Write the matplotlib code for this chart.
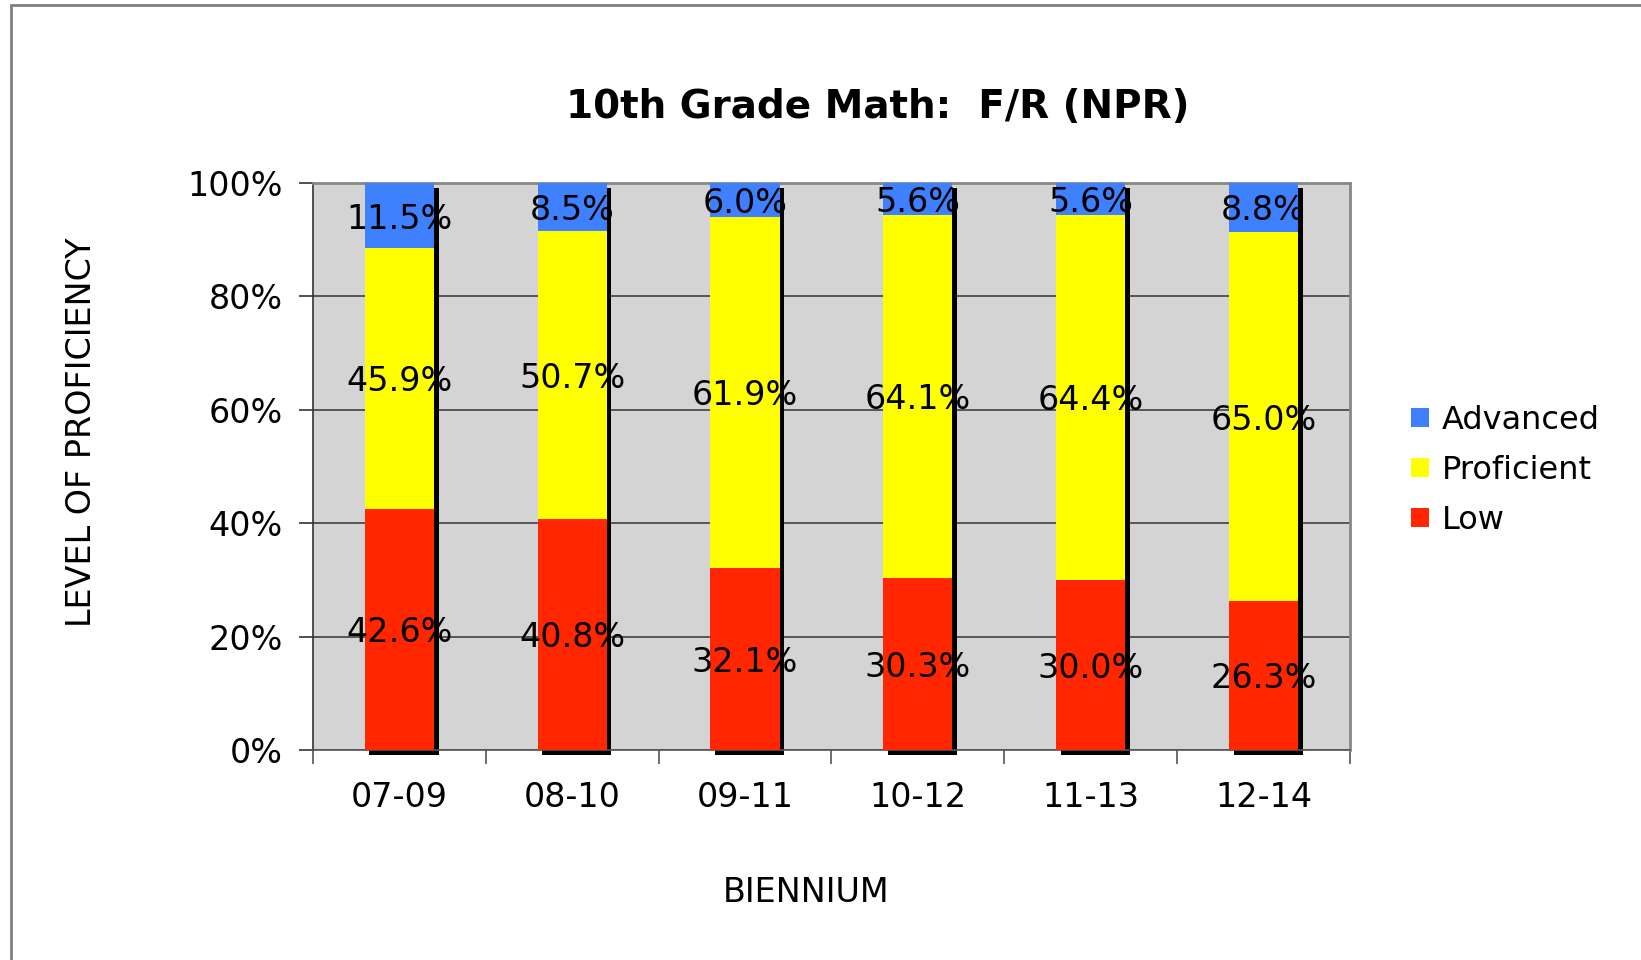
import numpy as np
import matplotlib.pyplot as plt
from matplotlib.patches import Rectangle

# Data
periods = ['07-09', '08-10', '09-11', '10-12', '11-13', '12-14']
low = [42.6, 40.8, 32.1, 30.3, 30.0, 26.3]
proficient = [45.9, 50.7, 61.9, 64.1, 64.4, 65.0]
advanced = [11.5, 8.5, 6.0, 5.6, 5.6, 8.8]

colors = {'Low': '#FF2600', 'Proficient': '#FFFF00', 'Advanced': '#3F80FF'}

fig = plt.figure(figsize=(16.41, 9.6), dpi=100)
ax = fig.add_axes([0.1907, 0.2187, 0.632, 0.5906])

x = np.arange(len(periods))
width = 0.4

# shadow behind each stacked bar
dx, dy = 0.027, 0.8
totals = np.array(low) + np.array(proficient) + np.array(advanced)
for xi, tot in zip(x, totals):
    ax.add_patch(Rectangle((xi - width / 2 + dx, -dy), width, min(tot, 100),
                           facecolor='black', edgecolor='none', zorder=2,
                           clip_on=False))

bottom = np.zeros(len(periods))
handles = {}
for name, vals in [('Low', low), ('Proficient', proficient), ('Advanced', advanced)]:
    vals = np.array(vals)
    b = ax.bar(x, vals, width, bottom=bottom, color=colors[name],
               edgecolor='none', zorder=3, label=name)
    handles[name] = b
    for xi, v, bt in zip(x, vals, bottom):
        ax.text(xi, bt + v / 2 - 0.6, f'{v:.1f}%', ha='center', va='center',
                fontsize=24, zorder=5)
    bottom += vals

ax.set_xlim(-0.5, len(periods) - 0.5)
ax.set_ylim(0, 100)
ax.set_facecolor('#D4D4D4')
ax.set_yticks(np.arange(0, 101, 20))
ax.set_yticklabels([f'{v}%' for v in range(0, 101, 20)], fontsize=24)
ax.yaxis.grid(True, color='#404040', linewidth=1.2, zorder=1)
ax.set_axisbelow(True)

ax.set_xticks(x)
ax.set_xticklabels(periods, fontsize=24)
ax.tick_params(axis='x', length=0, pad=22)
ax.set_xticks(np.arange(-0.5, len(periods), 1), minor=True)
ax.tick_params(axis='x', which='minor', length=10, width=1.2, color='#555555')
ax.tick_params(axis='y', length=10, width=1.2, color='#333333', pad=12)

for side in ['top', 'right']:
    ax.spines[side].set_color('#888888')
    ax.spines[side].set_linewidth(2)
ax.spines['left'].set_color('#333333')
ax.spines['bottom'].set_color('#555555')
ax.spines['left'].set_linewidth(1.2)
ax.spines['bottom'].set_linewidth(1.2)

ax.set_xlabel('BIENNIUM', fontsize=24, va='center')
ax.xaxis.set_label_coords(0.475, -0.251)
ax.set_ylabel('LEVEL OF PROFICIENCY', fontsize=24, va='center')
ax.yaxis.set_label_coords(-0.223, 0.561)

fig.text(0.535, 0.889, '10th Grade Math:  F/R (NPR)', ha='center', va='center',
         fontsize=28, fontweight='bold')

leg = fig.legend([handles['Advanced'], handles['Proficient'], handles['Low']],
                 ['Advanced', 'Proficient', 'Low'], loc='center left',
                 bbox_to_anchor=(0.860, 0.51), frameon=False, fontsize=23,
                 handlelength=0.55, handleheight=0.55, handletextpad=0.4,
                 labelspacing=0.6, borderpad=0, borderaxespad=0)

# outer frame
fig.add_artist(Rectangle((11 / 1641, -0.1), 1.2, 1.1 - 5 / 960,
                         transform=fig.transFigure, fill=False,
                         edgecolor='#808080', linewidth=2))

fig.savefig('out.png', dpi=100)
